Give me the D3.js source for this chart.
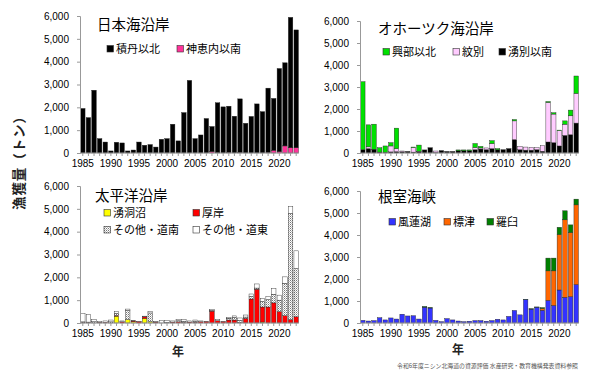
<!DOCTYPE html>
<html>
<head>
<meta charset="utf-8">
<script src="https://d3js.org/d3.v7.min.js"></script>
<style>
body { margin: 0; background: #fff; }
text { font-family: "Liberation Sans", Arial, sans-serif; }
.jp { font-family: "Noto Sans CJK JP", "Noto Sans", sans-serif; }
</style>
</head>
<body>
<script>
// years on the x axis
var years = [1985,1986,1987,1988,1989,1990,1991,1992,1993,1994,1995,1996,1997,1998,1999,
  2000,2001,2002,2003,2004,2005,2006,2007,2008,2009,2010,2011,2012,2013,2014,2015,2016,
  2017,2018,2019,2020,2021,2022,2023];
var yearLabels = [1985,1990,1995,2000,2005,2010,2015,2020];
var yTicks = [0,1000,2000,3000,4000,5000,6000];

// 日本海沿岸
var shakotanNorth = [1950,1550,2750,630,480,90,470,440,90,130,480,340,370,260,600,630,1260,530,1770,3180,
  630,790,1510,1100,2190,2020,2030,1610,2350,1300,1600,2150,1810,2820,2270,3640,3640,5710,5160];
var kamoenaiSouth = [0,0,0,0,0,0,0,0,0,0,0,0,0,0,0,0,0,0,0,0,
  0,0,0,60,10,0,20,0,20,0,0,0,0,20,120,60,310,230,230];

// オホーツク海沿岸
var okoppeNorth = [3090,1000,1140,200,290,150,930,0,0,20,280,0,0,0,0,0,0,40,40,30,
  180,70,0,130,50,0,0,60,0,0,0,0,0,40,60,20,150,260,790];
var monbetsu = [0,80,0,0,0,270,140,30,0,210,20,0,0,70,0,0,0,0,0,0,
  100,50,80,230,0,0,0,850,150,140,130,90,250,1800,1300,700,510,860,1350];
var yubetsuSouth = [150,200,170,40,30,50,60,60,70,40,60,140,240,20,110,70,70,100,100,110,
  150,180,150,200,150,150,200,610,150,130,130,150,80,500,470,320,800,830,1360];

// 太平洋沿岸
var yudonuma = [0,0,0,0,0,0,300,0,150,60,0,200,60,0,0,0,0,0,0,0,
  0,0,0,0,0,0,0,0,0,0,0,0,40,0,0,0,0,0,0];
var akkeshi = [20,20,0,30,30,0,30,50,0,30,60,70,0,40,0,0,40,50,20,40,
  30,60,60,520,100,60,130,130,20,200,1050,1480,660,700,880,500,320,150,270];
var otherDonan = [30,20,60,0,0,50,100,0,400,0,0,0,380,0,0,30,0,50,60,0,
  50,0,0,30,0,0,80,120,100,60,120,50,250,330,380,500,1420,4650,2120];
var otherDoto = [360,340,100,40,60,80,70,40,60,30,10,30,70,30,120,90,50,50,70,50,
  50,30,10,40,50,10,40,60,100,90,100,180,130,140,250,220,280,290,770];

// 根室海峡
var furen = [120,90,110,240,140,230,180,400,320,330,180,720,680,120,60,200,140,90,60,80,
  110,110,80,110,170,140,300,570,370,1070,630,720,580,1030,800,1500,1170,1200,1750];
var shibetsu = [0,0,0,0,0,0,0,0,0,0,0,0,0,0,0,0,0,0,0,0,
  0,0,0,0,0,0,0,0,0,0,0,0,80,1340,1570,2520,3520,2910,3620];
var rausu = [0,0,0,0,0,0,0,0,0,0,0,30,20,0,0,0,0,0,0,0,
  0,0,0,0,0,0,0,0,0,10,20,10,40,580,580,330,410,350,260];

var svg = d3.select("body").append("svg")
  .attr("width", 600).attr("height", 374);

// fine grey hatch for その他・道南
var defs = svg.append("defs");
var pat = defs.append("pattern").attr("id", "hatch")
  .attr("patternUnits", "userSpaceOnUse").attr("width", 2).attr("height", 2);
pat.append("rect").attr("width", 2).attr("height", 2).attr("fill", "#fff");
pat.append("rect").attr("width", 1).attr("height", 1).attr("fill", "#777");
pat.append("rect").attr("x", 1).attr("y", 1).attr("width", 1).attr("height", 1).attr("fill", "#bbb");

var panels = [
  { title: "日本海沿岸", x0: 80, x1: 299, yb: 153, yt: 16, tx: 97, ty: 30,
    series: [
      { name: "神恵内以南", values: kamoenaiSouth, fill: "#ff3399" },
      { name: "積丹以北", values: shakotanNorth, fill: "#000" }
    ],
    legend: [
      { s: 1, x: 107, y: 49 }, { s: 0, x: 177, y: 49 }
    ] },
  { title: "オホーツク海沿岸", x0: 360, x1: 579, yb: 153, yt: 21, tx: 378, ty: 34,
    series: [
      { name: "湧別以南", values: yubetsuSouth, fill: "#000" },
      { name: "紋別", values: monbetsu, fill: "#ffccff" },
      { name: "興部以北", values: okoppeNorth, fill: "#00e000" }
    ],
    legend: [
      { s: 2, x: 383, y: 52 }, { s: 1, x: 453, y: 52 }, { s: 0, x: 499, y: 52 }
    ] },
  { title: "太平洋沿岸", x0: 80, x1: 299, yb: 323, yt: 186, tx: 95, ty: 201,
    series: [
      { name: "湧洞沼", values: yudonuma, fill: "#ffff00" },
      { name: "厚岸", values: akkeshi, fill: "#ff0000" },
      { name: "その他・道南", values: otherDonan, fill: "url(#hatch)" },
      { name: "その他・道東", values: otherDoto, fill: "#fff" }
    ],
    legend: [
      { s: 0, x: 104, y: 213 }, { s: 1, x: 193, y: 213 },
      { s: 2, x: 104, y: 230 }, { s: 3, x: 193, y: 230 }
    ] },
  { title: "根室海峡", x0: 360, x1: 579, yb: 323, yt: 191, tx: 378, ty: 202,
    series: [
      { name: "風蓮湖", values: furen, fill: "#3333ff" },
      { name: "標津", values: shibetsu, fill: "#ff6600" },
      { name: "羅臼", values: rausu, fill: "#008000" }
    ],
    legend: [
      { s: 0, x: 389, y: 222 }, { s: 1, x: 444, y: 222 }, { s: 2, x: 487, y: 222 }
    ] }
];

panels.forEach(function(p) {
  var g = svg.append("g");
  var x = d3.scaleBand().domain(years).range([p.x0, p.x1]).paddingInner(0.2).paddingOuter(0.1);
  var y = d3.scaleLinear().domain([0, 6000]).range([p.yb, p.yt]);

  // table for the stack
  var rows = years.map(function(yr, i) {
    var r = { year: yr };
    p.series.forEach(function(s) { r[s.name] = s.values[i]; });
    return r;
  });
  var keys = p.series.map(function(s) { return s.name; });
  var stacked = d3.stack().keys(keys)(rows);

  stacked.forEach(function(layer, li) {
    g.selectAll(null).data(layer.filter(function(d) { return d[1] > d[0]; }))
      .enter().append("rect")
      .attr("x", function(d) { return x(d.data.year); })
      .attr("width", x.bandwidth())
      .attr("y", function(d) { return y(d[1]); })
      .attr("height", function(d) { return y(d[0]) - y(d[1]); })
      .attr("fill", p.series[li].fill)
      .attr("stroke", "#222")
      .attr("stroke-width", 0.4);
  });

  // y axis
  var ya = g.append("g").attr("transform", "translate(" + p.x0 + ",0)")
    .call(d3.axisLeft(y).tickValues(yTicks).tickSize(3).tickPadding(8).tickFormat(d3.format(",")));
  ya.select(".domain").attr("stroke", "#999");
  ya.selectAll(".tick line").attr("stroke", "#999");
  ya.selectAll("text").attr("font-size", 10).attr("fill", "#000")
    .attr("font-family", "Liberation Sans, Arial, sans-serif");

  // x axis
  var xa = g.append("g").attr("transform", "translate(0," + p.yb + ")")
    .call(d3.axisBottom(x).tickSize(3).tickPadding(4).tickSizeOuter(0)
      .tickFormat(function(d) { return yearLabels.indexOf(d) >= 0 ? d : ""; }));
  xa.select(".domain").attr("stroke", "#999").attr("d", "M" + p.x0 + ",0H" + p.x1);
  xa.selectAll(".tick line").attr("stroke", "#999");
  xa.selectAll("text").attr("font-size", 10).attr("fill", "#000")
    .attr("font-family", "Liberation Sans, Arial, sans-serif");

  // title
  g.append("text").attr("class", "jp").attr("x", p.tx).attr("y", p.ty)
    .attr("font-size", 14.5).attr("fill", "#000").text(p.title);

  // legend
  p.legend.forEach(function(l) {
    var s = p.series[l.s];
    g.append("rect").attr("x", l.x).attr("y", l.y - 3.5).attr("width", 6.5).attr("height", 6.5)
      .attr("fill", s.fill).attr("stroke", "#333").attr("stroke-width", 0.6);
    g.append("text").attr("class", "jp").attr("x", l.x + 9).attr("y", l.y + 4)
      .attr("font-size", 11).attr("fill", "#000").text(s.name);
  });
});

// shared axis titles
svg.append("text").attr("class", "jp")
  .attr("transform", "translate(24,160) rotate(-90)")
  .attr("text-anchor", "middle").attr("font-size", 13.5).attr("font-weight", "bold")
  .attr("textLength", 100).attr("lengthAdjust", "spacing")
  .attr("fill", "#222").text("漁獲量（トン）");
svg.append("text").attr("class", "jp").attr("x", 178).attr("y", 356)
  .attr("text-anchor", "middle").attr("font-size", 12).attr("font-weight", "bold")
  .attr("fill", "#222").text("年");
svg.append("text").attr("class", "jp").attr("x", 458).attr("y", 354)
  .attr("text-anchor", "middle").attr("font-size", 12).attr("font-weight", "bold")
  .attr("fill", "#222").text("年");

// source note
svg.append("text").attr("class", "jp").attr("x", 397).attr("y", 368)
  .attr("font-size", 6.2).attr("fill", "#555")
  .attr("textLength", 181).attr("lengthAdjust", "spacingAndGlyphs")
  .text("令和6年度ニシン北海道の資源評価 水産研究・教育機構発表資料参照");
</script>
</body>
</html>
